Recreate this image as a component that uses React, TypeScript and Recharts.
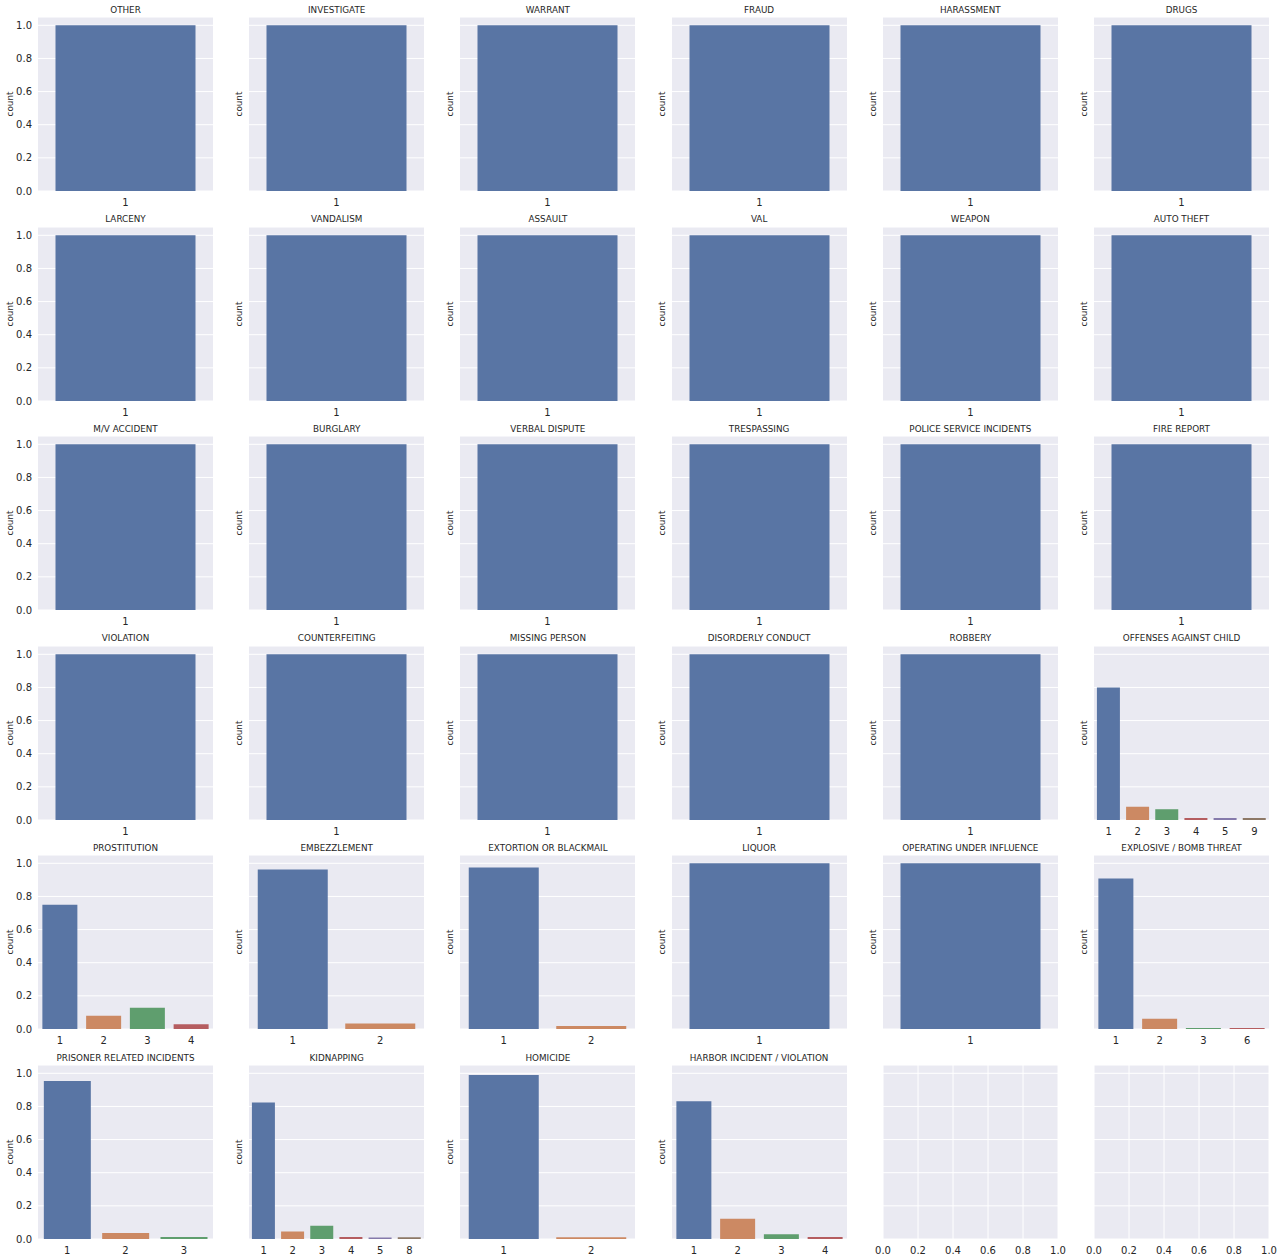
import React from 'react';
import { BarChart, Bar, XAxis, YAxis, CartesianGrid, Cell, ComposedChart } from 'recharts';

const FONT = '"DejaVu Sans", sans-serif';
const TEXT = '#262626';
const BG = '#EAEAF2';
const PALETTE = ['#5975A4', '#CC8963', '#5F9E6E', '#B55D60', '#857AAB', '#8D7866'];

const Y_TICKS = [0, 0.2, 0.4, 0.6, 0.8, 1.0];
const EMPTY_X_TICKS = [0, 0.2, 0.4, 0.6, 0.8, 1.0];

const titles = [
  'OTHER', 'INVESTIGATE', 'WARRANT', 'FRAUD', 'HARASSMENT', 'DRUGS',
  'LARCENY', 'VANDALISM', 'ASSAULT', 'VAL', 'WEAPON', 'AUTO THEFT',
  'M/V ACCIDENT', 'BURGLARY', 'VERBAL DISPUTE', 'TRESPASSING', 'POLICE SERVICE INCIDENTS', 'FIRE REPORT',
  'VIOLATION', 'COUNTERFEITING', 'MISSING PERSON', 'DISORDERLY CONDUCT', 'ROBBERY', 'OFFENSES AGAINST CHILD',
  'PROSTITUTION', 'EMBEZZLEMENT', 'EXTORTION OR BLACKMAIL', 'LIQUOR', 'OPERATING UNDER INFLUENCE', 'EXPLOSIVE / BOMB THREAT',
  'PRISONER RELATED INCIDENTS', 'KIDNAPPING', 'HOMICIDE', 'HARBOR INCIDENT / VIOLATION',
];

// Single-category panels (all count proportion 1.0)
const singleCats = ['1'];
const singleVals = [1.0];

const offensesChildCats = ['1', '2', '3', '4', '5', '9'];
const offensesChildVals = [0.8, 0.08, 0.065, 0.012, 0.012, 0.012];

const prostitutionCats = ['1', '2', '3', '4'];
const prostitutionVals = [0.75, 0.08, 0.128, 0.028];

const embezzlementCats = ['1', '2'];
const embezzlementVals = [0.963, 0.033];

const extortionCats = ['1', '2'];
const extortionVals = [0.975, 0.018];

const explosiveCats = ['1', '2', '3', '6'];
const explosiveVals = [0.908, 0.062, 0.006, 0.006];

const prisonerCats = ['1', '2', '3'];
const prisonerVals = [0.954, 0.036, 0.012];

const kidnappingCats = ['1', '2', '3', '4', '5', '8'];
const kidnappingVals = [0.823, 0.046, 0.08, 0.012, 0.009, 0.01];

const homicideCats = ['1', '2'];
const homicideVals = [0.99, 0.011];

const harborCats = ['1', '2', '3', '4'];
const harborVals = [0.831, 0.122, 0.028, 0.012];

// Empty panels: a single placeholder row so the axes get built (no series drawn)
const emptyRows = [{ x: 0, y: 0 }];

const special: Record<string, [string[], number[]]> = {
  'OFFENSES AGAINST CHILD': [offensesChildCats, offensesChildVals],
  'PROSTITUTION': [prostitutionCats, prostitutionVals],
  'EMBEZZLEMENT': [embezzlementCats, embezzlementVals],
  'EXTORTION OR BLACKMAIL': [extortionCats, extortionVals],
  'EXPLOSIVE / BOMB THREAT': [explosiveCats, explosiveVals],
  'PRISONER RELATED INCIDENTS': [prisonerCats, prisonerVals],
  'KIDNAPPING': [kidnappingCats, kidnappingVals],
  'HOMICIDE': [homicideCats, homicideVals],
  'HARBOR INCIDENT / VIOLATION': [harborCats, harborVals],
};

// Layout
const COLS = 6;
const COL_STEP = 211.2;
const ROW_STEP = 209.6;
const AX_LEFT = 38;
const AX_TOP = 17;
const AX_W = 175;
const AX_H = 174;
const XAXIS_H = 19;
const RIGHT_PAD = 12;
const CHART_W = AX_LEFT + AX_W + RIGHT_PAD;
const CHART_H = AX_TOP + AX_H + XAXIS_H;

const tickStyle = { fontSize: 10, fill: TEXT, fontFamily: FONT };

// invisible tick renderer: keeps the ticks (and so the grid lines) but draws no label
const NoTick = () => <g />;

const makeCountLabel = (cx: number) => () => {
  const cy = AX_TOP + AX_H / 2;
  return (
    <text
      x={cx}
      y={cy}
      transform={`rotate(-90, ${cx}, ${cy})`}
      textAnchor="middle"
      dominantBaseline="central"
      fontSize={8.8}
      fill={TEXT}
      fontFamily={FONT}
    >
      count
    </text>
  );
};

const fmt = (v: number) => Number(v).toFixed(1);

function Panel({ title, col }: { title: string; col: number }) {
  const [cats, vals] = special[title] || [singleCats, singleVals];
  const data = cats.map((k, i) => ({ k, v: vals[i] }));
  const labelX = col === 0 ? 10.3 : AX_LEFT - 9.7;
  return (
    <BarChart
      width={CHART_W}
      height={CHART_H}
      data={data}
      margin={{ top: AX_TOP, right: RIGHT_PAD, bottom: 0, left: 0 }}
      barCategoryGap="10%"
    >
      <CartesianGrid fill={BG} fillOpacity={1} stroke="#ffffff" strokeWidth={1} vertical={false} />
      <XAxis
        dataKey="k"
        axisLine={false}
        tickLine={false}
        tickSize={0}
        tickMargin={8}
        height={XAXIS_H}
        interval={0}
        tick={tickStyle}
      />
      <YAxis
        type="number"
        width={AX_LEFT}
        domain={[0, 1.05]}
        ticks={Y_TICKS}
        allowDataOverflow
        tickFormatter={fmt}
        axisLine={false}
        tickLine={false}
        tickSize={0}
        tickMargin={6}
        tick={col === 0 ? tickStyle : NoTick}
        label={makeCountLabel(labelX)}
      />
      <Bar dataKey="v" isAnimationActive={false}>
        {data.map((d, i) => (
          <Cell key={d.k} fill={PALETTE[i % PALETTE.length]} />
        ))}
      </Bar>
    </BarChart>
  );
}

function EmptyPanel() {
  return (
    <ComposedChart
      width={CHART_W}
      height={CHART_H}
      data={emptyRows}
      margin={{ top: AX_TOP, right: RIGHT_PAD, bottom: 0, left: 0 }}
    >
      <CartesianGrid fill={BG} fillOpacity={1} stroke="#ffffff" strokeWidth={1} />
      <XAxis
        type="number"
        dataKey="x"
        domain={[0, 1]}
        ticks={EMPTY_X_TICKS}
        allowDataOverflow
        tickFormatter={fmt}
        axisLine={false}
        tickLine={false}
        tickSize={0}
        tickMargin={8}
        height={XAXIS_H}
        interval={0}
        tick={tickStyle}
      />
      <YAxis
        type="number"
        dataKey="y"
        width={AX_LEFT}
        domain={[0, 1.05]}
        ticks={Y_TICKS}
        allowDataOverflow
        axisLine={false}
        tickLine={false}
        tick={NoTick}
      />
    </ComposedChart>
  );
}

export default function App() {
  const cells = [];
  for (let i = 0; i < 36; i++) {
    const r = Math.floor(i / COLS);
    const c = i % COLS;
    const title = titles[i];
    cells.push(
      <div
        key={i}
        style={{ position: 'absolute', left: c * COL_STEP, top: r * ROW_STEP, width: CHART_W, height: CHART_H }}
      >
        {title ? (
          <div
            style={{
              position: 'absolute',
              left: AX_LEFT,
              top: 4.7,
              width: AX_W,
              height: 11,
              lineHeight: '11px',
              fontSize: 8.8,
              fontFamily: FONT,
              color: TEXT,
              textAlign: 'center',
              whiteSpace: 'nowrap',
            }}
          >
            {title}
          </div>
        ) : null}
        {title ? <Panel title={title} col={c} /> : <EmptyPanel />}
      </div>
    );
  }
  return (
    <div
      style={{
        position: 'absolute',
        left: 0,
        top: 0,
        width: 1280,
        height: 1259,
        background: '#ffffff',
        overflow: 'hidden',
      }}
    >
      {cells}
    </div>
  );
}
